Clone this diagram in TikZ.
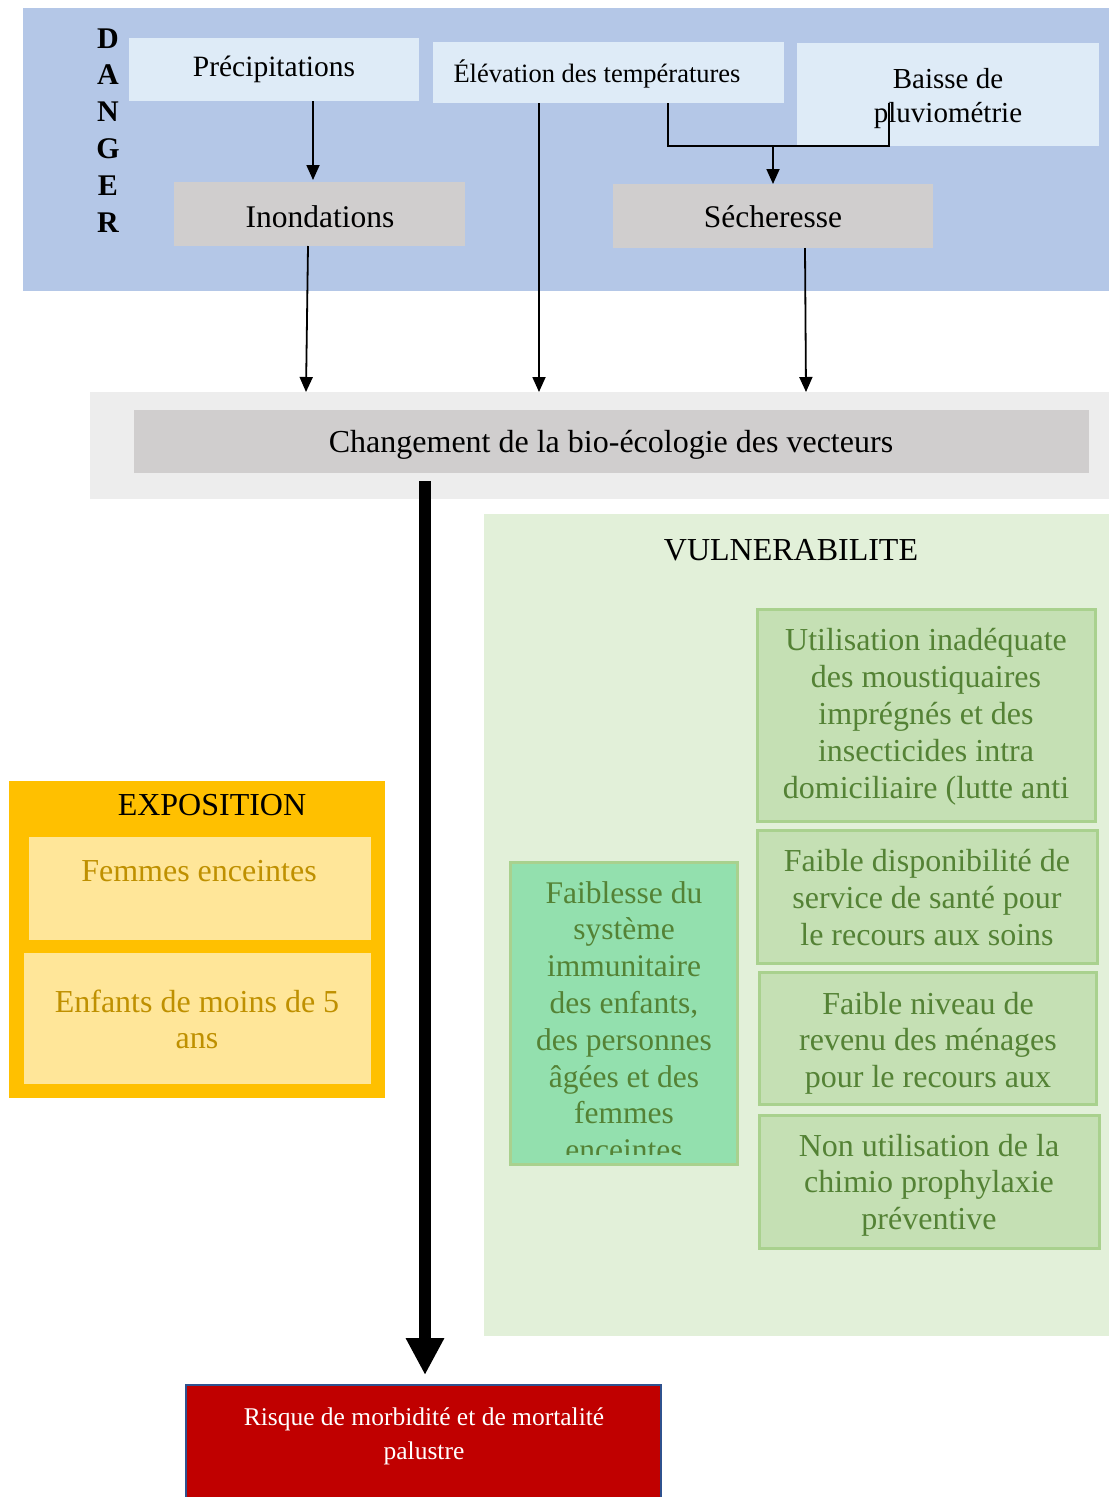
\documentclass[tikz,border=0pt]{standalone}
\usepackage{fontspec}
\setmainfont{Liberation Serif}
\usetikzlibrary{arrows.meta,fit}
\definecolor{dangerbg}{HTML}{B4C7E7}
\definecolor{lightbox}{HTML}{DEEBF7}
\definecolor{graybox}{HTML}{D0CECE}
\definecolor{bandgray}{HTML}{EDEDED}
\definecolor{vulnbg}{HTML}{E2F0D9}
\definecolor{greenbox}{HTML}{C5E0B4}
\definecolor{greenline}{HTML}{A9D18E}
\definecolor{greentext}{HTML}{548235}
\definecolor{mintbox}{HTML}{93E0AE}
\definecolor{expobg}{HTML}{FFC000}
\definecolor{expobox}{HTML}{FFE699}
\definecolor{expotext}{HTML}{BF9000}
\definecolor{riskred}{HTML}{C00000}
\definecolor{riskline}{HTML}{2F528F}
\newcommand{\mlines}[1]{\begin{tabular}[t]{@{}c@{}}#1\end{tabular}}
\begin{document}
\begin{tikzpicture}[x=1pt,y=-1pt,
  panel/.style={inner sep=0pt, outer sep=0pt, draw=none},
  gbox/.style={inner sep=0pt, outer sep=0pt, fill=greenbox, draw=greenline, line width=3pt},
  txt/.style={inner sep=0pt, anchor=base, font=\fontsize{31.5}{36.8}\selectfont},
  gtxt/.style={txt, text=greentext, font=\fontsize{32}{37}\selectfont},
  etxt/.style={txt, text=expotext, font=\fontsize{32}{36}\selectfont},
  link/.style={line width=1.8pt},
  arr/.style={link, -{Triangle[width=13pt,length=15pt]}},
  bigarr/.style={line width=12pt, -{Triangle[width=36pt,length=37pt]}}
]
\useasboundingbox (0,0) rectangle (1109,1497);
\fill[white] (0,0) rectangle (1109,1497);

% ---------- DANGER ----------
\node[panel, fill=dangerbg, fit={(23,8) (1109,291)}] (danger) {};
\node[txt, font=\fontsize{30}{36.8}\selectfont\bfseries] (dangerlbl) at (108,48) {\mlines{D\\A\\N\\G\\E\\R}};

\node[panel, fill=lightbox, fit={(129,38) (419,101)}] (prec) {};
\node[panel, fill=lightbox, fit={(433,42) (784,103)}] (elev) {};
\node[panel, fill=lightbox, fit={(797,43) (1099,146)}] (baisse) {};
\node[panel, fill=graybox, fit={(174,182) (465,246)}] (inon) {};
\node[panel, fill=graybox, fit={(613,184) (933,248)}] (sech) {};

\node[txt, font=\fontsize{29.5}{34}\selectfont] (prect) at (274,76) {Précipitations};
\node[txt, font=\fontsize{26.5}{34}\selectfont] (elevt) at (597,82) {Élévation des températures};
\node[txt, font=\fontsize{29}{34}\selectfont] (baisset) at (948,88) {\mlines{Baisse de\\pluviométrie}};
\node[txt] (inont) at (320,227) {Inondations};
\node[txt] (secht) at (773,227) {Sécheresse};

% ---------- bio-ecologie ----------
\node[panel, fill=bandgray, fit={(90,392) (1109,499)}] (band) {};
\node[panel, fill=graybox, fit={(134,410) (1089,473)}] (bio) {};
\node[txt, font=\fontsize{32}{36.8}\selectfont] (biot) at (611,452) {Changement de la bio-écologie des vecteurs};

% ---------- VULNERABILITE ----------
\node[panel, fill=vulnbg, fit={(484,514) (1109,1336)}] (vuln) {};
\node[txt, font=\fontsize{32}{36.8}\selectfont] (vulnt) at (791,560) {VULNERABILITE};

\node[gbox, fit={(757,609) (1095,821)}] (util) {};
\node[gbox, fit={(757,830) (1097,963)}] (dispo) {};
\node[gbox, fit={(759,972) (1096,1104)}] (niveau) {};
\node[gbox, fit={(759,1115) (1099,1248)}] (nonutil) {};
\node[gbox, fill=mintbox, fit={(510,862) (737,1164)}] (faib) {};

\node[gtxt] (utilt) at (926,650) {\mlines{Utilisation inadéquate\\des moustiquaires\\imprégnés et des\\insecticides intra\\domiciliaire (lutte anti}};
\node[gtxt] (dispot) at (927,871) {\mlines{Faible disponibilité de\\service de santé pour\\le recours aux soins}};
\node[gtxt, font=\fontsize{32}{36.5}\selectfont] (niveaut) at (928,1014) {\mlines{Faible niveau de\\revenu des ménages\\pour le recours aux}};
\node[gtxt, font=\fontsize{32}{36.8}\selectfont] (nonutilt) at (929,1156) {\mlines{Non utilisation de la\\chimio prophylaxie\\préventive}};
\begin{scope}
\clip (510,862) rectangle (737,1154);
\node[gtxt, font=\fontsize{31.5}{36.8}\selectfont] (faibt) at (624,903) {\mlines{Faiblesse du\\système\\immunitaire\\des enfants,\\des personnes\\âgées et des\\femmes\\enceintes}};
\end{scope}

% ---------- EXPOSITION ----------
\node[panel, fill=expobg, fit={(9,781) (385,1098)}] (expo) {};
\node[panel, fill=expobox, fit={(29,837) (371,940)}] (femmes) {};
\node[panel, fill=expobox, fit={(24,953) (371,1084)}] (enfants) {};
\node[txt, font=\fontsize{32}{36.8}\selectfont] (expot) at (212,815) {EXPOSITION};
\node[etxt] (femmest) at (199,881) {Femmes enceintes};
\node[etxt] (enfantst) at (197,1012) {\mlines{Enfants de moins de 5\\ans}};

% ---------- RISQUE ----------
\node[inner sep=0pt, outer sep=0pt, fill=riskred, draw=riskline, line width=2pt, fit={(186,1385) (661,1512)}] (risk) {};
\node[txt, text=white, font=\fontsize{25.5}{34}\selectfont] (riskt) at (424,1425) {\mlines{Risque de morbidité et de mortalité\\palustre}};

% ---------- connectors ----------
\coordinate (xa) at (313,0);
\coordinate (xb) at (308,0);
\coordinate (xb2) at (306,0);
\coordinate (xc) at (539,0);
\coordinate (xd) at (805,0);
\coordinate (xd2) at (806,0);
\coordinate (xe) at (668,0);
\coordinate (xf) at (889,0);
\coordinate (ts) at (425,481);

\draw[arr, shorten >=2pt] (prec.south -| xa) -- (inon.north -| xa);
\draw[arr] (inon.south -| xb) -- (band.north -| xb2);
\draw[arr] (elev.south -| xc) -- (band.north -| xc);
\draw[arr] (sech.south -| xd) -- (band.north -| xd2);
\draw[link] (elev.south -| xe) |- (baisse.south -| xf) -- (elev.south -| xf);
\draw[arr] (baisse.south -| sech.north) -- (sech.north);
\draw[bigarr, shorten >=10pt] (ts) -- (risk.north -| ts);
\end{tikzpicture}
\end{document}
